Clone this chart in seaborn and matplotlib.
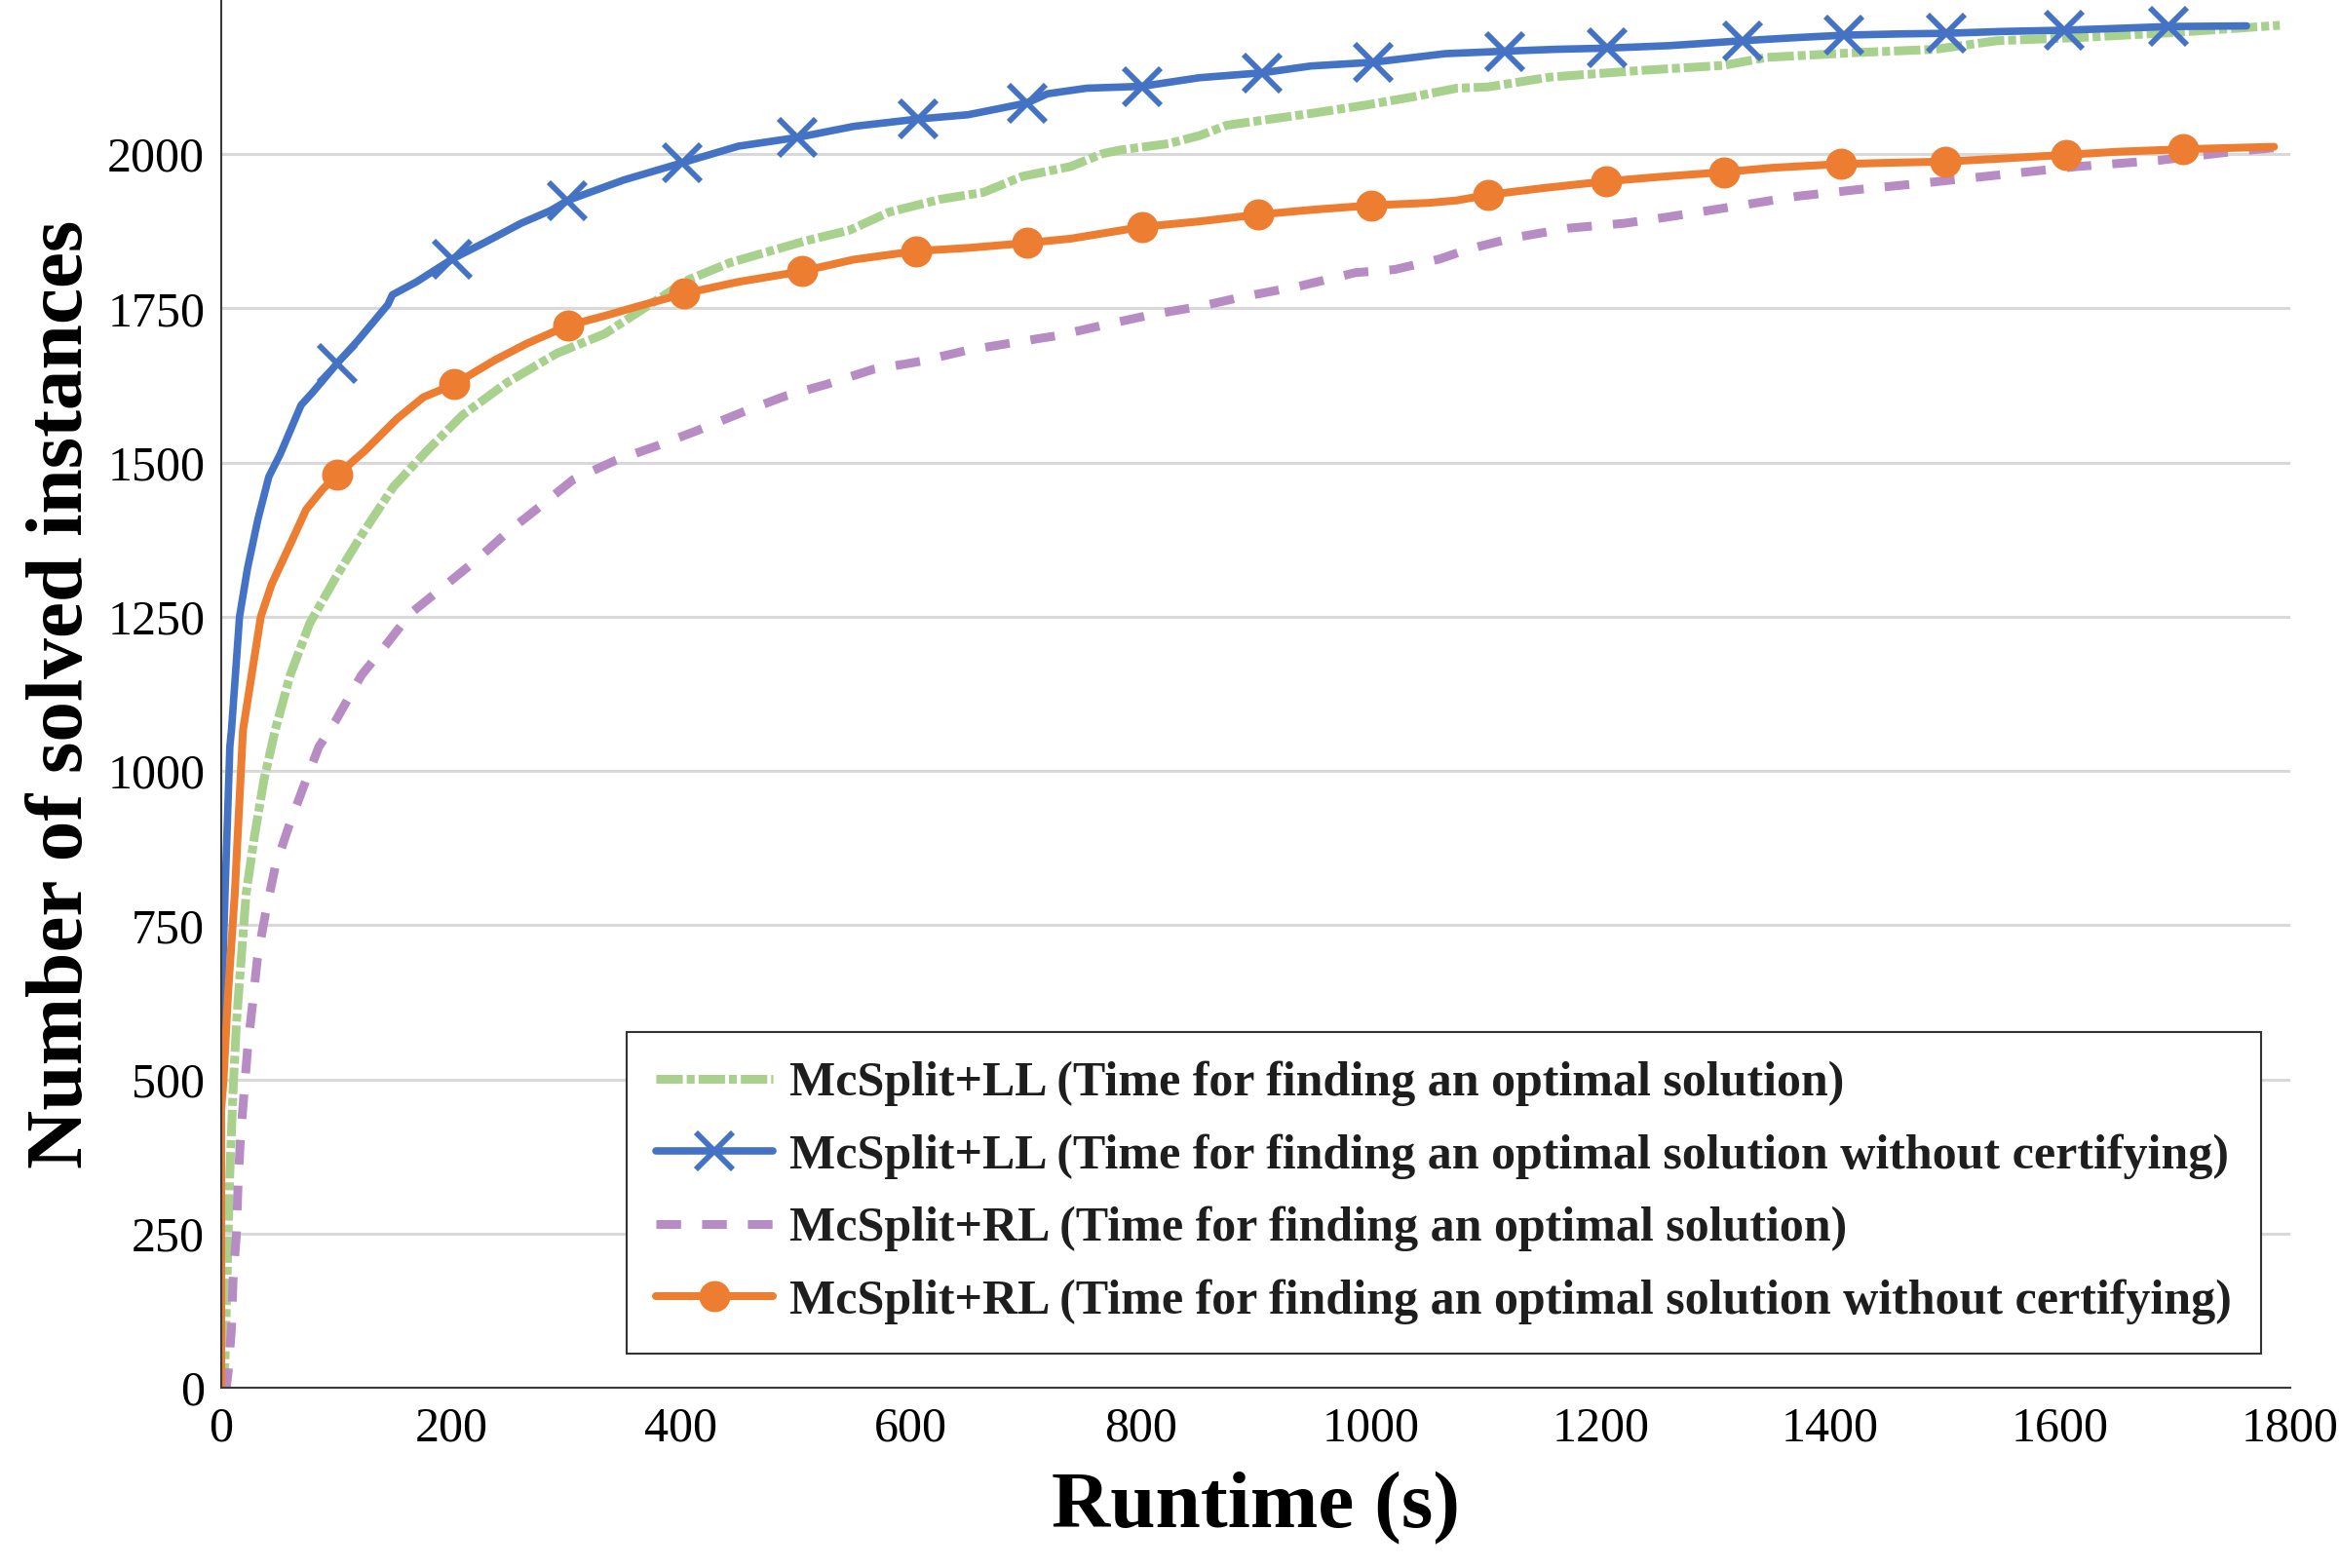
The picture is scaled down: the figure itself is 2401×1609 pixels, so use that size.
import matplotlib
matplotlib.use("Agg")
import matplotlib.pyplot as plt
import seaborn as sns
import numpy as np

# McSplit+LL, time for finding an optimal solution
ll_opt_t = [0, 1.5, 3.4, 4.8, 6.2, 7.6, 10.5, 13.3, 17.5, 21.8, 28.8, 37.3, 47, 60, 77, 99.5, 122,
            150, 179, 210, 249, 292, 334, 362, 406, 442.6, 507.6, 547, 581, 626, 663, 697, 739, 767,
            783, 824, 851, 875, 948, 997, 1037, 1075, 1102, 1156, 1237, 1307, 1345, 1426, 1491, 1545,
            1615, 1697, 1791]
ll_opt_n = [0, 0, 43, 149, 254, 350, 486, 591, 697, 802, 892, 986, 1066, 1155, 1239, 1313, 1382,
            1461, 1519, 1577, 1630, 1677, 1709, 1743, 1796, 1824, 1859, 1877, 1906, 1927, 1938, 1964, 1980, 2001,
            2007, 2017, 2030, 2047, 2066, 2080, 2093, 2107, 2109, 2125, 2136, 2144, 2157, 2165, 2170, 2184,
            2189, 2197, 2209]

# McSplit+LL, time for finding an optimal solution without certifying
ll_nocert_t = [0, 0, 0.5, 3.4, 7.6, 9, 16, 23, 32, 41.5, 51.5, 69.5, 79.7, 101, 119, 145, 149, 170,
               201, 228.5, 261, 287, 301.5, 350, 401, 450, 501, 550, 606, 650, 701, 719, 753, 801,
               851, 906, 948, 1002, 1065, 1117, 1160, 1206, 1260, 1324, 1370, 1412, 1460, 1501, 1550,
               1603, 1650, 1694.5, 1762]
ll_nocert_n = [0, 500, 620, 802, 1040, 1066, 1250, 1329, 1408, 1477, 1514, 1593, 1614, 1661, 1698, 1756, 1772, 1793,
               1830, 1856, 1888, 1909, 1925, 1958, 1986, 2013, 2027, 2045, 2057, 2064, 2083, 2098, 2107, 2110,
               2124, 2132, 2143, 2149, 2163, 2167, 2170, 2172, 2176, 2184, 2189, 2193, 2195, 2196, 2199,
               2201, 2204, 2207, 2208]
ll_nocert_marks = [101, 201, 301.5, 401, 501, 606, 701, 801, 906, 1002, 1117, 1206, 1324, 1412, 1501, 1603, 1694.5]

# McSplit+RL, time for finding an optimal solution
rl_opt_t = [0, 4.5, 6.2, 9, 10.4, 13.3, 14.7, 16.7, 19.8, 23, 27.4, 31.6, 38.7, 47, 58.5, 71, 85, 99.5,
            122, 145, 164.5, 193, 224, 249, 277.5, 306, 342.5, 379, 413, 454, 491, 527, 567, 608, 649,
            691, 728, 770.5, 810, 851, 889.5, 938, 987, 1021, 1060, 1085, 1123, 1172, 1221, 1258, 1302,
            1372, 1426, 1480, 1545, 1615, 1686, 1749, 1796]
rl_opt_n = [0, 0, 27, 96, 175, 249, 328, 401, 475, 549, 623, 697, 770, 844, 908, 971, 1039, 1081,
            1155, 1208, 1255, 1298, 1345, 1387, 1429, 1472, 1503, 1527, 1551, 1582, 1608, 1627, 1651, 1664, 1682,
            1695, 1706, 1724, 1740, 1753, 1769, 1786, 1808, 1813, 1830, 1846, 1864, 1880, 1888, 1898, 1911,
            1932, 1943, 1953, 1966, 1980, 1990, 2004, 2012]

# McSplit+RL, time for finding an optimal solution without certifying
rl_nocert_t = [0, 0, 2, 6.2, 11.9, 19, 34.5, 44, 61, 74, 88, 101, 125, 153, 176, 203, 238, 266, 301.6,
               334, 362, 403, 450, 505, 550, 605, 650, 701, 739, 801, 851, 902, 950, 1000.5, 1050, 1075,
               1102, 1150, 1205, 1250, 1307.6, 1350, 1409, 1450, 1500, 1550, 1605, 1650, 1706.5, 1786]
rl_nocert_n = [0, 450, 496, 644, 802, 1066, 1250, 1303, 1371, 1424, 1456, 1480, 1519, 1571, 1606, 1627, 1666, 1693, 1722,
               1738, 1753, 1774, 1793, 1810, 1829, 1843, 1848, 1856, 1863, 1882, 1891, 1902, 1910, 1917, 1921, 1925,
               1934, 1945, 1956, 1963, 1971, 1978, 1984, 1986, 1988, 1993, 1999, 2004, 2008, 2012]
rl_nocert_marks = [101, 203, 301.6, 403, 505, 605, 701, 801, 902, 1000.5, 1102, 1205, 1307.6, 1409, 1500, 1605, 1706.5]

labels = ["McSplit+LL (Time for finding an optimal solution)",
          "McSplit+LL (Time for finding an optimal solution without certifying)",
          "McSplit+RL (Time for finding an optimal solution)",
          "McSplit+RL (Time for finding an optimal solution without certifying)"]

green, blue, purple, orange = "#A9D18E", "#4472C4", "#B78BC3", "#ED7D31"

sns.set_theme(style="white")
plt.rcParams["font.family"] = ["Liberation Serif", "DejaVu Serif"]

fig = plt.figure(figsize=(24.01, 16.09), dpi=100)
ax = fig.add_axes([0.0945, 0.115, 0.8842, 0.885])

sns.lineplot(x=ll_opt_t, y=ll_opt_n, ax=ax, estimator=None, sort=False, errorbar=None,
             color=green, lw=6.5, linestyle=(0, (3.0, 0.45, 0.9, 0.45)), label=labels[0])
sns.lineplot(x=ll_nocert_t, y=ll_nocert_n, ax=ax, estimator=None, sort=False, errorbar=None,
             color=blue, lw=5.5, marker="x", ms=27, mew=4.2, mec=blue,
             markevery=[ll_nocert_t.index(v) for v in ll_nocert_marks], label=labels[1])
sns.lineplot(x=rl_opt_t, y=rl_opt_n, ax=ax, estimator=None, sort=False, errorbar=None,
             color=purple, lw=6.5, linestyle=(0, (2.8, 2.4)), label=labels[2])
sns.lineplot(x=rl_nocert_t, y=rl_nocert_n, ax=ax, estimator=None, sort=False, errorbar=None,
             color=orange, lw=5.8, marker="o", ms=23, mew=0, mfc=orange,
             markevery=[rl_nocert_t.index(v) for v in rl_nocert_marks], label=labels[3])

ax.set_xlim(0, 1800)
ax.set_ylim(0, 2250)
ax.set_xticks(np.arange(0, 1801, 200))
ax.set_yticks(np.arange(0, 2001, 250))
ax.yaxis.grid(True, color="#D9D9D9", lw=2.2)
ax.xaxis.grid(False)
ax.set_axisbelow(True)

for side in ["top", "right"]:
    ax.spines[side].set_visible(False)
for side in ["left", "bottom"]:
    ax.spines[side].set_color("#3a3a3a")
    ax.spines[side].set_linewidth(1.5)

ax.tick_params(axis="both", direction="in", length=14, width=1.5, color="#3a3a3a",
               labelsize=36, labelcolor="black")
ax.tick_params(axis="y", pad=12)
ax.tick_params(axis="x", pad=14)

ax.set_xlabel("Runtime (s)", fontsize=60, fontweight="bold", color="black")
ax.set_ylabel("Number of solved instances", fontsize=60, fontweight="bold", color="black")
ax.xaxis.set_label_coords(0.5, -0.061)
ax.yaxis.set_label_coords(-0.0589, 0.5)

leg = ax.legend(loc="upper left", bbox_to_anchor=(0.196, 0.2563), borderaxespad=0,
                prop={"family": "Liberation Serif", "weight": "bold", "size": 36},
                frameon=True, fancybox=False, framealpha=1, edgecolor="#333333",
                handlelength=2.4, handletextpad=0.35, labelspacing=0.56, borderpad=0.6)
leg.get_frame().set_linewidth(1.5)
for t in leg.get_texts():
    t.set_color("#1e1e1e")

fig.savefig("out.png", dpi=100, facecolor="white")
